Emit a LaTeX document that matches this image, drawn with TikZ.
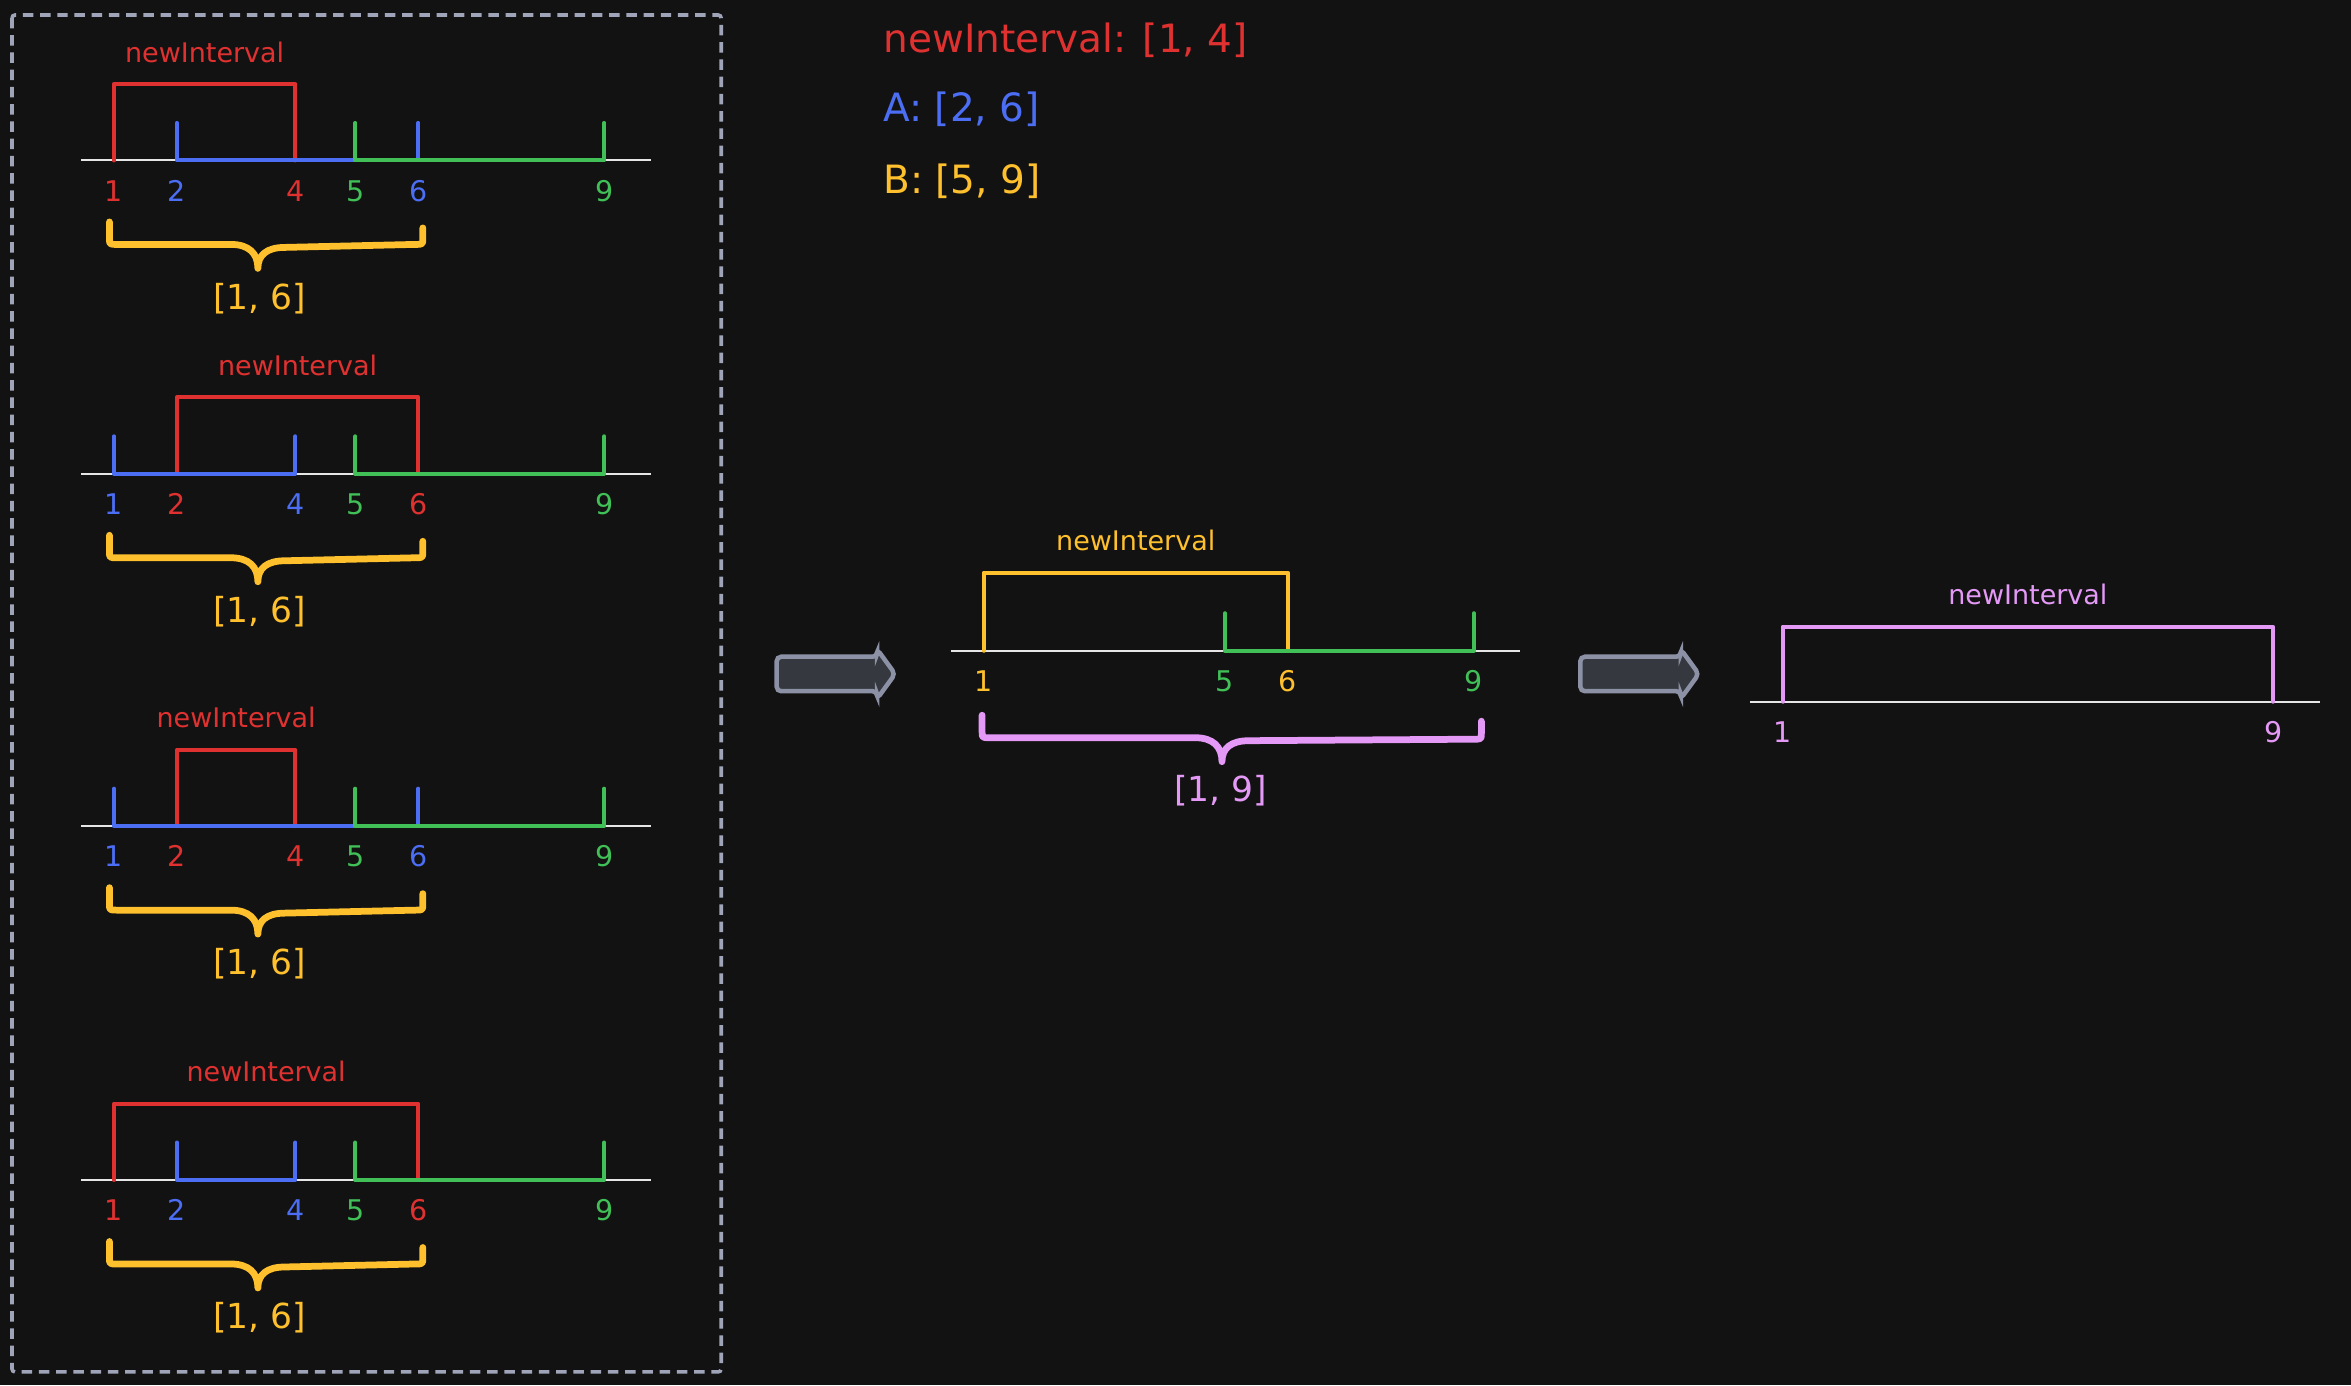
\documentclass[tikz,border=0pt]{standalone}
\usepackage{fontspec}
\setmainfont{DejaVu Sans}
\usepackage{tikz}
\usetikzlibrary{positioning}

\definecolor{bgcol}{HTML}{121212}
\definecolor{ired}{HTML}{E03131}
\definecolor{iblue}{HTML}{4C6EF5}
\definecolor{igreen}{HTML}{40C057}
\definecolor{iyellow}{HTML}{FFC02E}
\definecolor{ipurple}{HTML}{E599F7}
\definecolor{linecol}{HTML}{E6E6E6}
\definecolor{framecol}{HTML}{A0A4B8}
\definecolor{arrowfill}{HTML}{35393F}
\definecolor{arrowline}{HTML}{8C91A6}

\newcommand{\numsize}{\fontsize{19}{21}\selectfont}
\newcommand{\lblsize}{\fontsize{18}{20}\selectfont}
\newcommand{\spansize}{\fontsize{23}{26}\selectfont}
\newcommand{\headsize}{\fontsize{26}{30}\selectfont}

\tikzstyle{numline} = [draw=linecol, line width=1.4pt]
\tikzstyle{seg} = [line width=2.7pt, line cap=round, line join=round]
\tikzstyle{num} = [font=\numsize, inner sep=0pt, text height=14pt, text depth=0pt]
\tikzstyle{lbl} = [font=\lblsize, inner sep=0pt]
\tikzstyle{spanbrace} = [line width=4.5pt, line cap=round, line join=round]
\tikzstyle{result} = [font=\spansize, inner sep=0pt]
\tikzstyle{headline} = [anchor=west, font=\headsize, inner sep=0pt]
\tikzstyle{blockarrow} = [fill=arrowfill, draw=arrowline, line width=3pt, rounded corners=3pt]

\begin{document}
\begin{tikzpicture}[x=1pt, y=-1pt]
  \path[use as bounding box, fill=bgcol] (0,0) rectangle (1568,924);

  % Frame round the four cases
  \draw[framecol, line width=2.4pt, dash pattern=on 7pt off 4.5pt, rounded corners=2pt] (8,10) rectangle (481,915);

  % Given intervals
  \node[headline, text=ired] (given) at (589,27) {newInterval: [1, 4]};
  \node[headline, text=iblue] (givena) at (589,73) {A: [2, 6]};
  \node[headline, text=iyellow] (givenb) at (589,121) {B: [5, 9]};

  % Case 1
  \begin{scope}[shift={(0,107)}]
    \foreach \v/\p in {1/76, 2/118, 4/197, 5/237, 6/279, 9/403}
      \coordinate (x\v) at (\p,0);
    \draw[numline] (54,0) -- (434,0);
    \draw[seg, ired] (x1) -- ([yshift=51pt]x1) -- node[lbl, above=13pt] (lab) {newInterval} ([yshift=51pt]x4) -- (x4);
    \draw[seg, iblue] ([yshift=25pt]x2) -- (x2) -- (x6) -- ([yshift=25pt]x6);
    \draw[seg, igreen] ([yshift=25pt]x5) -- (x5) -- (x9) -- ([yshift=25pt]x9);
    \foreach \v/\c in {1/ired, 2/iblue, 4/ired, 5/igreen, 6/iblue, 9/igreen}
      \node[num, text=\c, below=13pt of x\v] (n\v) {\v};
    \draw[spanbrace, iyellow] (73,41) -- (73,52) .. controls (73,56) .. (78,56) -- (154,56)
      .. controls (166,56) and (172,62) .. (172,72) .. controls (172,63) and (178,58) .. (190,58)
      -- (277,56) .. controls (282,56) .. (282,52) -- (282,45);
    \node[result, text=iyellow] (res) at (173,92) {[1, 6]};
  \end{scope}

  % Case 2
  \begin{scope}[shift={(0,316)}]
    \foreach \v/\p in {1/76, 2/118, 4/197, 5/237, 6/279, 9/403}
      \coordinate (x\v) at (\p,0);
    \draw[numline] (54,0) -- (434,0);
    \draw[seg, ired] (x2) -- ([yshift=51pt]x2) -- node[lbl, above=13pt] (lab) {newInterval} ([yshift=51pt]x6) -- (x6);
    \draw[seg, iblue] ([yshift=25pt]x1) -- (x1) -- (x4) -- ([yshift=25pt]x4);
    \draw[seg, igreen] ([yshift=25pt]x5) -- (x5) -- (x9) -- ([yshift=25pt]x9);
    \foreach \v/\c in {1/iblue, 2/ired, 4/iblue, 5/igreen, 6/ired, 9/igreen}
      \node[num, text=\c, below=13pt of x\v] (n\v) {\v};
    \draw[spanbrace, iyellow] (73,41) -- (73,52) .. controls (73,56) .. (78,56) -- (154,56)
      .. controls (166,56) and (172,62) .. (172,72) .. controls (172,63) and (178,58) .. (190,58)
      -- (277,56) .. controls (282,56) .. (282,52) -- (282,45);
    \node[result, text=iyellow] (res) at (173,92) {[1, 6]};
  \end{scope}

  % Case 3
  \begin{scope}[shift={(0,551)}]
    \foreach \v/\p in {1/76, 2/118, 4/197, 5/237, 6/279, 9/403}
      \coordinate (x\v) at (\p,0);
    \draw[numline] (54,0) -- (434,0);
    \draw[seg, ired] (x2) -- ([yshift=51pt]x2) -- node[lbl, above=13pt] (lab) {newInterval} ([yshift=51pt]x4) -- (x4);
    \draw[seg, iblue] ([yshift=25pt]x1) -- (x1) -- (x6) -- ([yshift=25pt]x6);
    \draw[seg, igreen] ([yshift=25pt]x5) -- (x5) -- (x9) -- ([yshift=25pt]x9);
    \foreach \v/\c in {1/iblue, 2/ired, 4/ired, 5/igreen, 6/iblue, 9/igreen}
      \node[num, text=\c, below=13pt of x\v] (n\v) {\v};
    \draw[spanbrace, iyellow] (73,41) -- (73,52) .. controls (73,56) .. (78,56) -- (154,56)
      .. controls (166,56) and (172,62) .. (172,72) .. controls (172,63) and (178,58) .. (190,58)
      -- (277,56) .. controls (282,56) .. (282,52) -- (282,45);
    \node[result, text=iyellow] (res) at (173,92) {[1, 6]};
  \end{scope}

  % Case 4
  \begin{scope}[shift={(0,787)}]
    \foreach \v/\p in {1/76, 2/118, 4/197, 5/237, 6/279, 9/403}
      \coordinate (x\v) at (\p,0);
    \draw[numline] (54,0) -- (434,0);
    \draw[seg, ired] (x1) -- ([yshift=51pt]x1) -- node[lbl, above=13pt] (lab) {newInterval} ([yshift=51pt]x6) -- (x6);
    \draw[seg, iblue] ([yshift=25pt]x2) -- (x2) -- (x4) -- ([yshift=25pt]x4);
    \draw[seg, igreen] ([yshift=25pt]x5) -- (x5) -- (x9) -- ([yshift=25pt]x9);
    \foreach \v/\c in {1/ired, 2/iblue, 4/iblue, 5/igreen, 6/ired, 9/igreen}
      \node[num, text=\c, below=13pt of x\v] (n\v) {\v};
    \draw[spanbrace, iyellow] (73,41) -- (73,52) .. controls (73,56) .. (78,56) -- (154,56)
      .. controls (166,56) and (172,62) .. (172,72) .. controls (172,63) and (178,58) .. (190,58)
      -- (277,56) .. controls (282,56) .. (282,52) -- (282,45);
    \node[result, text=iyellow] (res) at (173,92) {[1, 6]};
  \end{scope}

  % Arrows between the steps
  \draw[blockarrow] (518,438) -- (585,438) -- (585,433) -- (597,449.5) -- (585,466) -- (585,461) -- (518,461) -- cycle;
  \draw[blockarrow] (1054,438) -- (1121,438) -- (1121,433) -- (1133,449.5) -- (1121,466) -- (1121,461) -- (1054,461) -- cycle;

  % Merged with A
  \begin{scope}[shift={(580,434)}]
    \foreach \v/\p in {1/76, 5/237, 6/279, 9/403}
      \coordinate (x\v) at (\p,0);
    \draw[numline] (54,0) -- (434,0);
    \draw[seg, iyellow] (x1) -- ([yshift=52pt]x1) -- node[lbl, above=13pt] (lab) {newInterval} ([yshift=52pt]x6) -- (x6);
    \draw[seg, igreen] ([yshift=25pt]x5) -- (x5) -- (x9) -- ([yshift=25pt]x9);
    \foreach \v/\c in {1/iyellow, 5/igreen, 6/iyellow, 9/igreen}
      \node[num, text=\c, below=13pt of x\v] (n\v) {\v};
    \draw[spanbrace, ipurple] (75,43) -- (75,54) .. controls (75,58) .. (80,58) -- (217,58)
      .. controls (229,58) and (235,64) .. (235,74) .. controls (235,65) and (241,60) .. (253,60)
      -- (403,59) .. controls (408,59) .. (408,55) -- (408,47);
    \node[result, text=ipurple] (res) at (234,93) {[1, 9]};
  \end{scope}

  % Merged with B
  \begin{scope}[shift={(1113,468)}]
    \foreach \v/\p in {1/76, 9/403}
      \coordinate (x\v) at (\p,0);
    \draw[numline] (54,0) -- (434,0);
    \draw[seg, ipurple] (x1) -- ([yshift=50pt]x1) -- node[lbl, above=13pt] (lab) {newInterval} ([yshift=50pt]x9) -- (x9);
    \foreach \v in {1, 9}
      \node[num, text=ipurple, below=13pt of x\v] (n\v) {\v};
  \end{scope}
\end{tikzpicture}
\end{document}
